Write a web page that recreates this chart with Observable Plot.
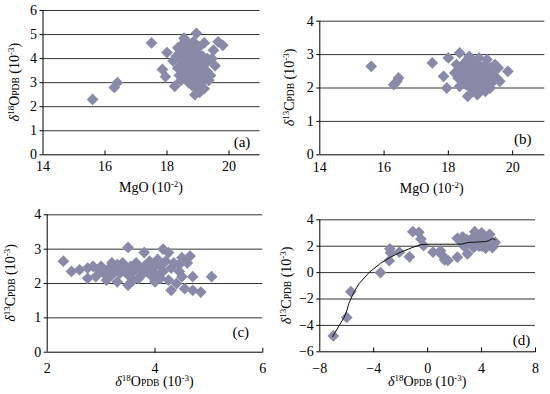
<!DOCTYPE html>
<html><head><meta charset="utf-8">
<script src="https://cdn.jsdelivr.net/npm/d3@7"></script>
<script src="https://cdn.jsdelivr.net/npm/@observablehq/plot@0.6"></script>
<style>
html,body{margin:0;padding:0;background:#fff;}
#chart{position:relative;width:550px;height:394px;overflow:hidden;}
#chart svg{position:absolute;}
</style></head><body><div id="chart"></div>
<script>
// Panel (a): MgO vs δ18O
const aMgO = [15.6,16.3,16.4,17.5,17.85,17.95,18.0,18.25,18.2,18.3,18.35,18.4,18.4,18.45,18.5,18.5,18.55,18.55,18.6,18.6,18.65,18.65,18.7,18.7,18.75,18.75,18.8,18.8,18.8,18.85,18.85,18.85,18.9,18.9,18.9,18.95,18.95,18.95,19.0,19.0,19.0,19.0,19.05,19.05,19.1,19.1,19.1,19.15,19.15,19.2,19.2,19.2,19.25,19.3,19.3,19.35,19.4,19.45,19.5,19.55,19.65,19.8,18.35,18.45,18.6,18.7];
const aO18 = [2.3,2.8,3.0,4.65,3.55,3.25,4.25,2.85,3.9,4.1,3.6,3.3,4.4,3.1,4.6,3.8,4.85,4.2,3.5,3.2,4.0,4.5,3.7,3.0,4.3,3.4,4.1,3.85,2.9,4.7,3.6,3.2,2.5,4.4,3.95,5.05,3.3,2.75,4.2,3.75,3.5,3.05,4.5,2.6,3.9,3.35,2.9,3.6,4.1,4.65,3.15,2.75,3.8,3.45,4.0,3.1,3.3,4.0,4.35,3.7,4.7,4.55,4.45,3.95,4.75,4.55];
// Panel (b): MgO vs δ13C
const bMgO = [15.6,16.3,16.4,16.45,17.5,17.85,17.95,18.0,18.35,18.65,19.2,19.55,19.6,19.85,18.6,18.9,19.15,18.35,18.2,18.25,18.3,18.4,18.45,18.5,18.5,18.55,18.6,18.65,18.7,18.7,18.75,18.8,18.8,18.85,18.9,18.9,18.95,19.0,19.0,19.05,19.1,19.1,19.15,19.2,19.25,19.3,19.35,19.4,19.45,19.5,18.6,18.45,18.35,18.8,18.95,19.3];
const bC13 = [2.65,2.1,2.2,2.3,2.75,2.35,2.0,2.9,3.05,2.95,2.85,2.6,2.2,2.5,1.75,1.8,1.9,2.05,2.45,2.7,2.3,2.55,2.2,2.75,2.4,2.1,2.6,2.3,2.8,2.0,2.5,2.2,2.65,2.4,2.05,2.75,2.3,2.55,1.95,2.2,2.65,2.4,2.1,2.5,2.3,2.6,2.15,2.4,2.7,2.3,2.85,2.6,2.35,1.9,2.9,2.0];
// Panel (c): δ18O vs δ13C
const cO18 = [2.3,2.45,2.6,2.75,2.75,2.85,2.95,3.0,3.05,3.1,3.15,3.2,3.25,3.3,3.3,3.35,3.4,3.45,3.5,3.5,3.5,3.55,3.6,3.65,3.7,3.7,3.75,3.8,3.8,3.85,3.9,3.95,3.95,4.0,4.0,4.05,4.1,4.1,4.15,4.15,4.2,4.25,4.25,4.3,4.3,4.35,4.4,4.45,4.45,4.5,4.5,4.55,4.6,4.65,4.7,4.7,4.85,5.05,3.0,3.2,2.9,3.6,4.0];
const cC13 = [2.65,2.35,2.4,2.15,2.45,2.5,2.4,2.5,2.3,2.1,2.45,2.25,2.4,2.55,2.05,2.3,2.6,2.45,3.05,1.95,2.25,2.5,2.35,2.6,2.15,2.45,2.25,2.9,2.5,2.35,2.65,2.2,2.45,2.6,2.3,2.7,2.15,2.5,3.0,2.35,2.65,2.9,2.1,2.45,1.8,2.6,2.0,2.35,2.55,2.75,2.2,1.85,2.6,2.8,2.2,1.8,1.75,2.2,2.35,2.6,2.2,2.1,2.05];
// Panel (d): δ18O vs δ13C (wide range) with trend
const dO18 = [-7.0,-6.0,-5.7,-3.5,-2.85,-2.8,-2.75,-2.1,-1.35,-1.1,-0.65,-0.5,-0.3,0.4,0.95,1.05,1.25,1.5,2.2,2.95,2.2,2.5,2.7,2.9,3.1,3.3,3.4,3.5,3.6,3.7,3.8,3.9,4.0,4.1,4.2,4.3,4.4,4.5,4.6,4.7,4.8,4.9,5.0,3.2,3.5,4.0,4.3,2.6];
const dC13 = [-4.8,-3.4,-1.45,0.0,0.9,1.8,1.5,1.55,1.2,3.1,3.05,2.55,2.05,1.55,1.65,1.35,0.97,0.92,1.17,1.42,2.6,2.3,2.0,2.5,2.2,2.6,1.9,3.1,2.4,2.8,2.0,2.6,3.0,2.3,2.8,1.85,2.5,2.1,2.9,2.4,1.9,2.2,2.3,2.3,2.0,2.0,2.2,2.7];
const trendO18 = [-7.05,-6.5,-6.2,-6.0,-5.85,-5.5,-5.1,-4.35,-3.5,-2.75,-2.0,-1.0,-0.5,0,2.5,3.0,4.3,4.5,4.8,5.0];
const trendC13 = [-4.85,-3.9,-3.4,-2.9,-2.35,-1.55,-0.85,0.0,0.7,1.17,1.55,1.95,2.12,2.15,2.15,2.28,2.35,2.4,2.58,2.5];

const DOT = "#8a8aa8";
const FONT = "'Liberation Serif','Times New Roman',serif";
const tickShape = {draw(ctx, l) { ctx.moveTo(0, 0); ctx.lineTo(0, -l); }};

const chart = document.getElementById("chart");

function addTitle(svg, x, y, rotate, parts) {
  const t = d3.select(svg).append("text")
    .attr("transform", `translate(${x},${y})${rotate ? " rotate(-90)" : ""}`)
    .attr("text-anchor", "middle").attr("font-size", 14).attr("fill", "#000")
    .attr("font-family", FONT);
  let shift = 0;
  for (const [s, kind] of parts) {
    const ts = t.append("tspan").text(s);
    let target = 0;
    if (kind === "sup") { ts.attr("font-size", 9); target = -5; }
    else if (kind === "sc") { ts.attr("font-size", 9.5); }
    else if (kind === "it") { ts.attr("font-style", "italic"); }
    if (target !== shift) { ts.attr("dy", target - shift); shift = target; }
  }
}

const mgoTitle = [["MgO (10"], ["-2", "sup"], [")"]];
const oTitle = [["δ", "it"], ["18", "sup"], ["O"], ["PDB", "sc"], [" (10"], ["-3", "sup"], [")"]];
const cTitle = [["δ", "it"], ["13", "sup"], ["C"], ["PDB", "sc"], [" (10"], ["-3", "sup"], [")"]];

function panel(o) {
  const pts = o.xs.map((x, i) => ({x, y: o.ys[i]}));
  const y0 = o.yDomain[0];
  const marks = [
    Plot.ruleY(o.yTicks.filter(t => t !== y0), {stroke: "#333", strokeWidth: 1}),
    Plot.dot(pts, {x: "x", y: "y", symbol: "diamond2", r: 5.3, fill: DOT, stroke: "none"})
  ];
  if (o.trend) marks.push(Plot.line(o.trend, {x: "x", y: "y", stroke: "#111", strokeWidth: 1}));
  marks.push(
    Plot.ruleY([y0], {stroke: "#000", strokeWidth: 1}),
    Plot.ruleX([o.xDomain[0]], {stroke: "#000", strokeWidth: 1}),
    Plot.vector(o.xTicks.filter(t => t !== o.xDomain[0]), {x: d => d, y: y0, length: 4, anchor: "start", shape: tickShape, stroke: "#000", strokeWidth: 1}),
    Plot.axisX(o.xTicks, {tickSize: 0, tickPadding: o.xPad, label: null}),
    Plot.axisY(o.yTicks, {tickSize: 3, tickPadding: 3, label: null}),
    Plot.text([o.tag], {text: d => d, frameAnchor: "bottom-right", textAnchor: "middle", lineAnchor: "middle", dx: o.tagDx, dy: o.tagDy, fontSize: 15})
  );
  const svg = Plot.plot({
    width: 275, height: 197,
    marginLeft: o.ml, marginRight: o.mr, marginTop: o.mt, marginBottom: o.mb,
    x: {domain: o.xDomain, label: null},
    y: {domain: o.yDomain, label: null},
    style: {fontFamily: FONT, fontSize: "14px", color: "#000", background: "#fff", overflow: "visible"},
    marks
  });
  svg.style.left = o.left + "px";
  svg.style.top = o.top + "px";
  chart.appendChild(svg);
  const cx = o.ml + (275 - o.ml - o.mr) / 2;
  const cy = o.mt + (197 - o.mt - o.mb) / 2;
  addTitle(svg, cx, o.xTitleY, false, o.xTitle);
  addTitle(svg, o.yTitleX, cy, true, o.yTitle);
}

panel({left: 0, top: 0, ml: 42.5, mr: 15.5, mt: 10, mb: 42.7,
  xs: aMgO, ys: aO18, xDomain: [14, 21], yDomain: [0, 6],
  xTicks: [14, 16, 18, 20], yTicks: [0, 1, 2, 3, 4, 5, 6], xPad: 6,
  tag: "(a)", tagDx: -18, tagDy: -13, xTitle: mgoTitle, xTitleY: 192, yTitle: oTitle, yTitleX: 19});

panel({left: 275, top: 0, ml: 44.3, mr: 5.7, mt: 20.7, mb: 42.7,
  xs: bMgO, ys: bC13, xDomain: [14, 21], yDomain: [0, 4],
  xTicks: [14, 16, 18, 20], yTicks: [0, 1, 2, 3, 4], xPad: 7,
  tag: "(b)", tagDx: -22, tagDy: -16, xTitle: mgoTitle, xTitleY: 193, yTitle: cTitle, yTitleX: 19});

panel({left: 0, top: 197, ml: 46.7, mr: 12.7, mt: 17.3, mb: 42.3,
  xs: cO18, ys: cC13, xDomain: [2, 6], yDomain: [0, 4],
  xTicks: [2, 4, 6], yTicks: [0, 1, 2, 3, 4], xPad: 11,
  tag: "(c)", tagDx: -22, tagDy: -20, xTitle: oTitle, xTitleY: 189, yTitle: cTitle, yTitleX: 15});

panel({left: 275, top: 197, ml: 44.3, mr: 15, mt: 22.3, mb: 42.7,
  xs: dO18, ys: dC13, xDomain: [-8, 8], yDomain: [-6, 4],
  xTicks: [-8, -4, 0, 4, 8], yTicks: [-6, -4, -2, 0, 2, 4], xPad: 11,
  trend: trendO18.map((x, i) => ({x, y: trendC13[i]})),
  tag: "(d)", tagDx: -14, tagDy: -12, xTitle: oTitle, xTitleY: 189, yTitle: cTitle, yTitleX: 16});
</script></body></html>
